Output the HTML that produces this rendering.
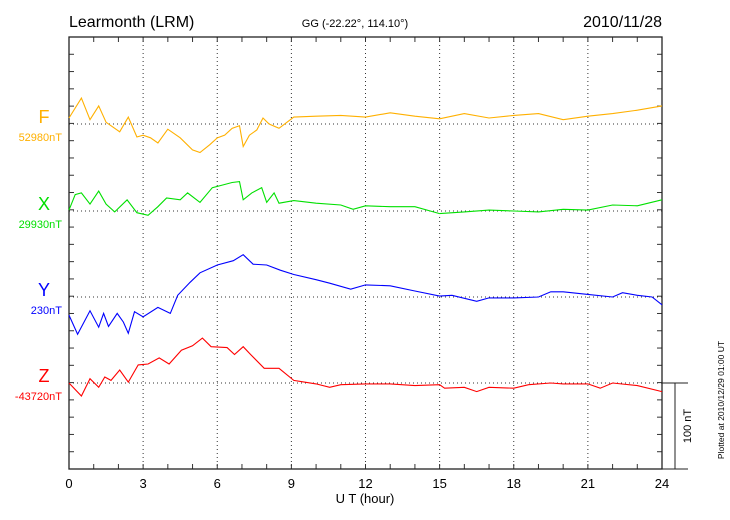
<!DOCTYPE html>
<html><head><meta charset="utf-8"><style>
body{margin:0;background:#fff;}
svg{display:block;font-family:"Liberation Sans",sans-serif;}
</style></head><body>
<svg id="chart" width="730" height="520" viewBox="0 0 730 520">
<g id="frame"></g>
<g id="series"></g>
<text x="69" y="27" font-size="16">Learmonth (LRM)</text>
<text x="355" y="27" font-size="11" text-anchor="middle">GG (-22.22°, 114.10°)</text>
<text x="662" y="27" font-size="16" text-anchor="end">2010/11/28</text>
<text x="365" y="503" font-size="13" text-anchor="middle">U T (hour)</text>
<text transform="translate(691,426) rotate(-90)" font-size="11" text-anchor="middle">100 nT</text>
<text transform="translate(724,400) rotate(-90)" font-size="8.5" text-anchor="middle">Plotted at 2010/12/29 01:00 UT</text>
</svg>
<script>
const xTicks=[0,3,6,9,12,15,18,21,24];
const fT=[0,.5,.85,1.2,1.5,2.05,2.4,2.75,3,3.3,3.6,4,4.5,5,5.3,5.7,6,6.3,6.6,6.9,7.05,7.3,7.6,7.85,8.1,8.5,9.1,10,11,12,13,14,15,16,17,18,19,20,21,22,23,24];
const fV=[7,30,5,21,2,-9,8,-15,-13,-16,-22,-6,-16,-30,-33,-24,-16,-13,-5,-2,-26,-13,-7,7,0,-5,8,9,10,8,13,9,6,12,7,10,12,5,9,12,16,21];
const xT=[0,.25,.5,.85,1.2,1.5,1.85,2.35,2.75,3.2,3.6,3.95,4.5,4.8,5.3,5.8,6.2,6.6,6.9,7.05,7.4,7.8,8,8.3,8.5,9.1,10,11,11.5,12,13,14,15,16,17,18,19,20,21,22,23,24];
const xV=[1,19,21,8,23,8,-1,13,-2,-5,5,15,13,21,10,27,30,33,34,13,21,27,10,21,9,12,9,7,2,6,5,5,-3,-1,1,0,-1,2,1,7,6,13];
const yT=[0,.35,.85,1.2,1.4,1.6,1.95,2.2,2.4,2.65,3,3.6,4.1,4.4,4.9,5.3,6,6.65,7.05,7.45,8,8.55,9.1,10,10.55,11.4,12,13,14,15,15.5,16.5,17,18,19,19.5,20,21,22,22.4,23,23.6,24];
const yV=[-21,-43,-16,-35,-19,-34,-19,-29,-42,-17,-23,-12,-19,2,17,28,37,42,49,38,37,31,26,20,16,9,14,13,7,1,2,-5,-1,-1,0,6,6,3,0,5,2,0,-9];
const zT=[0,.5,.85,1.2,1.45,1.7,2.05,2.4,2.8,3.2,3.65,4.05,4.55,5,5.4,5.75,6.4,6.7,7.05,7.35,7.9,8.5,9.1,10,10.55,11,12,13,14,15,15.2,16,16.5,17,18,18.6,19.5,20,21,21.5,22,23,24];
const zV=[0,-15,5,-5,7,3,15,1,21,22,29,22,38,43,52,42,41,33,42,33,17,17,3,-1,-5,-2,-1,-1,-3,-2,-6,-5,-10,-5,-6,-2,0,-1,-1,-6,0,-3,-10];
const seriesNames=["F","X","Y","Z"];
const baseLabels=["52980nT","29930nT","230nT","-43720nT"];

const NS="http://www.w3.org/2000/svg";
const L=69,R=662,T=37,B=469,tick=(B-T)/25,nT=tick*5/100;
const bases=[124,211,297,383];
const colors=["#ffb000","#00e000","#0000ff","#ff0000"];
const sx=h=>L+(R-L)*h/24;
const sy=(i,v)=>bases[i]-v*nT;
function el(tag,attrs,parent){const e=document.createElementNS(NS,tag);for(const k in attrs)e.setAttribute(k,attrs[k]);parent.appendChild(e);return e;}
const fr=document.getElementById('frame');
// grid
xTicks.slice(1,-1).forEach(h=>{
  const g=el('line',{x1:sx(h),x2:sx(h),y1:T,y2:B,stroke:'#333','stroke-width':1,'stroke-dasharray':'1,3'},fr);
  
  
});
bases.forEach(b=>{
  const g=el('line',{x1:L,x2:R,y1:b,y2:b,stroke:'#333','stroke-width':1,'stroke-dasharray':'1,3'},fr);
  
  
});
// ticks
for(let h=0;h<=24;h++){
  const a=el('line',{x1:sx(h),x2:sx(h),y1:T,y2:T+5,stroke:'#333'},fr);
  
  
  const b=el('line',{x1:sx(h),x2:sx(h),y1:B,y2:B-5,stroke:'#333'},fr);
  
  
}
for(let i=0;i<=25;i++){
  const y=T+i*tick;
  const a=el('line',{x1:L,x2:L+5,y1:y,y2:y,stroke:'#333'},fr);
  
  
  const b=el('line',{x1:R,x2:R-5,y1:y,y2:y,stroke:'#333'},fr);
  
  
}
const box=el('rect',{x:L,y:T,width:R-L,height:B-T,fill:'none',stroke:'#222','stroke-width':1.3},fr);


// scale bar
[[R,688,383,383],[R,688,B,B],[675,675,383,B]].forEach(c=>{
  const s=el('line',{x1:c[0],x2:c[1],y1:c[2],y2:c[3],stroke:'#222'},fr);
  
  
});
xTicks.forEach(h=>{
  const t=el('text',{x:sx(h),y:488,'font-size':13,'text-anchor':'middle'},fr);
  t.textContent=h;
  
  
});
// series
const sg=document.getElementById('series');
const Ts=[fT,xT,yT,zT],Vs=[fV,xV,yV,zV];
Ts.forEach((ts,i)=>{
  const pts=ts.map((t,j)=>sx(t).toFixed(1)+','+sy(i,Vs[i][j]).toFixed(1)).join(' ');
  const p=el('polyline',{points:pts,fill:'none',stroke:colors[i],'stroke-width':1.1},sg);
  
  
  const n=el('text',{x:44,y:bases[i]-1,'font-size':18,fill:colors[i],'text-anchor':'middle'},sg);
  n.textContent=seriesNames[i];
  
  
  const bl=el('text',{x:62,y:bases[i]+17,'font-size':11,fill:colors[i],'text-anchor':'end'},sg);
  bl.textContent=baseLabels[i];
  
  
});
</script>
</body></html>
